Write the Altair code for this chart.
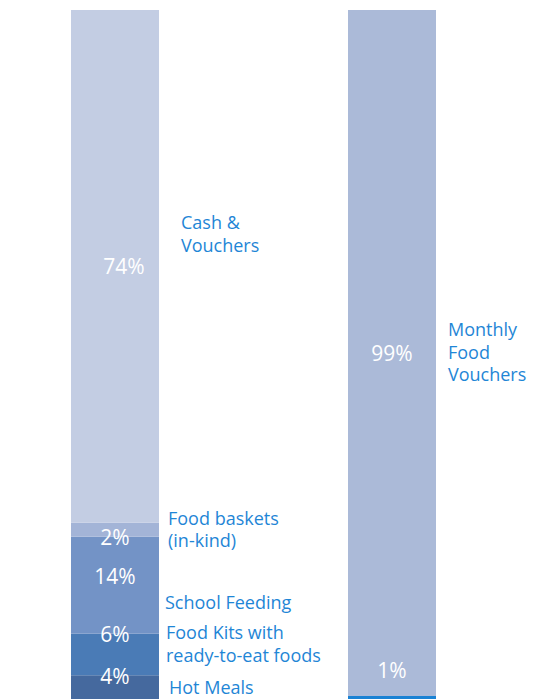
import altair as alt
import pandas as pd

# ---- data ----
bars = ["Left", "Left", "Left", "Left", "Left", "Right", "Right"]
categories = ["Hot Meals", "Food Kits with\nready-to-eat foods", "School Feeding",
              "Food baskets\n(in-kind)", "Cash &\nVouchers", "Other", "Monthly\nFood\nVouchers"]
values = [4, 6, 14, 2, 74, 1, 99]
pct_labels = ["4%", "6%", "14%", "2%", "74%", "1%", "99%"]
order_idx = [0, 1, 2, 3, 4, 0, 1]
colors = ["#45699e", "#4a7bb6", "#7393c6", "#a3b4d7", "#c3cde3", "#1a82d4", "#abbad8"]

df = pd.DataFrame({"bar": bars, "cat": categories, "value": values,
                   "pct": pct_labels, "idx": order_idx})

label_color = "#1f86d6"
font = "Open Sans"

base = alt.Chart(df).transform_stack(
    stack="value", groupby=["bar"], as_=["y0", "y1"], sort=[{"field": "idx", "order": "ascending"}]
).transform_calculate(mid="(datum.y0 + datum.y1) / 2")

xenc = alt.X("bar:N", scale=alt.Scale(type="point", range=[107, 384], padding=0), axis=None)
yscale = alt.Scale(domain=[0, 100], nice=False, zero=True)

bars_layer = base.mark_bar(size=88).encode(
    x=xenc,
    y=alt.Y("y0:Q", scale=yscale, axis=None),
    y2="y1:Q",
    color=alt.Color("cat:N", scale=alt.Scale(domain=categories, range=colors), legend=None),
)

def pct_layer(cat, dy, dx=0):
    return base.transform_filter(alt.datum.cat == cat).mark_text(
        color="white", font=font, fontSize=21, align="center", baseline="middle", dy=dy, dx=dx
    ).encode(x=xenc, y=alt.Y("mid:Q", scale=yscale), text="pct:N")

def cat_layer(cat, dx, dy):
    return base.transform_filter(alt.datum.cat == cat).mark_text(
        color=label_color, font=font, fontSize=18, align="left", baseline="middle",
        dx=dx, dy=dy, lineBreak="\n", lineHeight=22.5
    ).encode(x=xenc, y=alt.Y("mid:Q", scale=yscale), text="cat:N")

layers = [bars_layer,
          pct_layer(categories[0], -11),
          pct_layer(categories[1], -18),
          pct_layer(categories[2], -7),
          pct_layer(categories[3], 9),
          pct_layer(categories[4], 2, 9),
          pct_layer(categories[5], -28),
          pct_layer(categories[6], 2),
          cat_layer(categories[0], 54, 0),
          cat_layer(categories[1], 51, -20),
          cat_layer(categories[2], 50, 19),
          cat_layer(categories[3], 53, -10),
          cat_layer(categories[4], 66, -42),
          cat_layer(categories[6], 56, -22)]

chart = alt.layer(*layers).properties(
    width=519, height=693,
    autosize=alt.AutoSizeParams(type="none"),
    padding={"left": 0, "top": 2, "right": 0, "bottom": 0},
).configure_view(stroke=None)

chart.save("out.html", embed_options={"renderer": "svg", "actions": False})
